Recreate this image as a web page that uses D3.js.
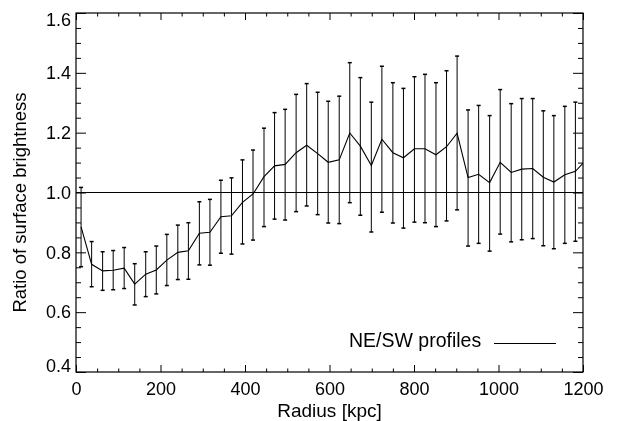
<!DOCTYPE html>
<head>
  <meta charset="utf-8">
  <script src="https://d3js.org/d3.v7.min.js"></script>
  <style>
    body { margin:0;position:fixed;top:0;right:0;bottom:0;left:0;background:#fff; }
    text { font-family: "Liberation Sans", Arial, Helvetica, sans-serif; fill:#000; }
    .axis path { display:none; }
    .axis line { stroke:#000; stroke-width:1; }
  </style>
</head>
<body>

<script>

  // data
  var radius = [12, 37, 63, 88, 114, 139, 165, 190, 215, 241, 266, 292, 317, 343, 368, 394,
                419, 445, 470, 495, 521, 546, 572, 597, 623, 648, 673, 699, 724, 750, 775, 801,
                826, 852, 877, 902, 928, 953, 979, 1004, 1030, 1055, 1081, 1106, 1131, 1157, 1182, 1208];

  var ratio = [0.885, 0.760, 0.738, 0.740, 0.747, 0.694, 0.727, 0.741, 0.774, 0.800, 0.805, 0.864,
               0.867, 0.919, 0.922, 0.967, 0.995, 1.053, 1.089, 1.094, 1.133, 1.158, 1.130, 1.101,
               1.109, 1.199, 1.155, 1.090, 1.178, 1.133, 1.116, 1.146, 1.146, 1.126, 1.153, 1.198,
               1.050, 1.061, 1.033, 1.101, 1.067, 1.078, 1.080, 1.051, 1.035, 1.059, 1.071, 1.110];

  var upper = [1.017, 0.836, 0.802, 0.806, 0.816, 0.762, 0.802, 0.821, 0.860, 0.891, 0.899, 0.969,
               0.977, 1.041, 1.049, 1.109, 1.142, 1.215, 1.267, 1.278, 1.328, 1.364, 1.335, 1.305,
               1.322, 1.434, 1.384, 1.302, 1.422, 1.367, 1.348, 1.387, 1.395, 1.367, 1.407, 1.456,
               1.276, 1.291, 1.257, 1.344, 1.297, 1.314, 1.314, 1.273, 1.257, 1.288, 1.302, 1.330];

  var lower = [0.752, 0.685, 0.673, 0.675, 0.679, 0.624, 0.652, 0.661, 0.689, 0.709, 0.710, 0.758,
               0.757, 0.797, 0.794, 0.828, 0.841, 0.886, 0.911, 0.908, 0.936, 0.955, 0.926, 0.898,
               0.896, 0.966, 0.924, 0.868, 0.934, 0.898, 0.881, 0.901, 0.899, 0.886, 0.905, 0.942,
               0.821, 0.830, 0.804, 0.861, 0.835, 0.842, 0.846, 0.822, 0.812, 0.830, 0.837, 0.880];

  var xTicks = [0, 200, 400, 600, 800, 1000, 1200];
  var yTicks = [0.4, 0.6, 0.8, 1.0, 1.2, 1.4, 1.6];
  var xMinor = d3.range(0, 1201, 50).filter(function(v) { return v % 200 !== 0; });
  var yMinor = [0.45, 0.5, 0.55, 0.65, 0.7, 0.75, 0.85, 0.9, 0.95, 1.05, 1.1, 1.15, 1.25, 1.3, 1.35, 1.45, 1.5, 1.55];

  var data = radius.map(function(r, i) {
    return {r: r, v: ratio[i], hi: upper[i], lo: lower[i]};
  });

  var margin = {top: 13, right: 35, bottom: 49, left: 76},
  width = 618 - margin.left - margin.right,
  height = 421 - margin.top - margin.bottom;

  var svg = d3.select("body").append("svg")
  .attr("width", 618)
  .attr("height", 421)
  .append("g")
  .attr("transform", "translate(" + margin.left + "," + margin.top + ")");

  var x = d3.scaleLinear().domain([0, 1200]).range([0, width]);
  var y = d3.scaleLinear().domain([0.4, 1.6]).range([height, 0]);

  svg.append("clipPath").attr("id", "clip")
    .append("rect").attr("width", width).attr("height", height);

  var plot = svg.append("g").attr("clip-path", "url(#clip)");

  // reference line at 1
  plot.append("line")
    .attr("x1", 0).attr("x2", width)
    .attr("y1", y(1)).attr("y2", y(1))
    .attr("stroke", "#000").attr("stroke-width", 1.2);

  // error bars
  var bars = plot.selectAll(".err").data(data).enter()
    .append("g").attr("class", "err")
    .attr("stroke", "#000").attr("stroke-width", 1);
  bars.append("line")
    .attr("x1", function(d) { return x(d.r); })
    .attr("x2", function(d) { return x(d.r); })
    .attr("y1", function(d) { return y(d.lo); })
    .attr("y2", function(d) { return y(d.hi); });
  bars.append("line")
    .attr("x1", function(d) { return x(d.r) - 2; })
    .attr("x2", function(d) { return x(d.r) + 2; })
    .attr("y1", function(d) { return y(d.hi); })
    .attr("y2", function(d) { return y(d.hi); })
    .attr("stroke-width", 1.5);
  bars.append("line")
    .attr("x1", function(d) { return x(d.r) - 2; })
    .attr("x2", function(d) { return x(d.r) + 2; })
    .attr("y1", function(d) { return y(d.lo); })
    .attr("y2", function(d) { return y(d.lo); })
    .attr("stroke-width", 1.5);

  var line = d3.line()
    .x(function(d) { return x(d.r); })
    .y(function(d) { return y(d.v); });

  plot.append("path").datum(data)
    .attr("d", line)
    .attr("fill", "none")
    .attr("stroke", "#000")
    .attr("stroke-width", 1.1);

  // axes (ticks inward)
  svg.append("g").attr("class", "axis")
    .attr("transform", "translate(0," + height + ")")
    .style("font-size", "18px")
    .call(d3.axisBottom(x).tickValues(xTicks).tickSize(-7).tickSizeOuter(0).tickPadding(10)
      .tickFormat(d3.format("d")));
  svg.append("g").attr("class", "axis")
    .attr("transform", "translate(0," + height + ")")
    .call(d3.axisBottom(x).tickValues(xMinor).tickSize(-3.5).tickSizeOuter(0).tickFormat(""));
  svg.append("g").attr("class", "axis")
    .call(d3.axisTop(x).tickValues(xTicks).tickSize(-7).tickSizeOuter(0).tickFormat(""));
  svg.append("g").attr("class", "axis")
    .call(d3.axisTop(x).tickValues(xMinor).tickSize(-3.5).tickSizeOuter(0).tickFormat(""));

  var yAxis = svg.append("g").attr("class", "axis")
    .style("font-size", "18px")
    .call(d3.axisLeft(y).tickValues(yTicks).tickSize(-10).tickSizeOuter(0).tickPadding(5)
      .tickFormat(d3.format(".1f")));
  // IDL nudges the end labels inside the box
  yAxis.selectAll(".tick text")
    .attr("dy", function(d) { return d === 1.6 ? "0.68em" : (d === 0.4 ? "-0.05em" : "0.32em"); });
  svg.append("g").attr("class", "axis")
    .call(d3.axisLeft(y).tickValues(yMinor).tickSize(-5).tickSizeOuter(0).tickFormat(""));
  svg.append("g").attr("class", "axis")
    .attr("transform", "translate(" + width + ",0)")
    .call(d3.axisRight(y).tickValues(yTicks).tickSize(-10).tickSizeOuter(0).tickFormat(""));
  svg.append("g").attr("class", "axis")
    .attr("transform", "translate(" + width + ",0)")
    .call(d3.axisRight(y).tickValues(yMinor).tickSize(-5).tickSizeOuter(0).tickFormat(""));

  // frame
  svg.append("rect")
    .attr("width", width).attr("height", height)
    .attr("fill", "none").attr("stroke", "#000").attr("stroke-width", 1.2);

  // axis titles
  svg.append("text")
    .attr("x", width / 2)
    .attr("y", height + 45)
    .style("text-anchor", "middle")
    .style("font-size", "19px")
    .text("Radius [kpc]");

  svg.append("text")
    .attr("transform", "rotate(-90)")
    .attr("x", -(height / 2) - 10)
    .attr("y", -margin.left + 26)
    .style("text-anchor", "middle")
    .style("font-size", "18.5px")
    .text("Ratio of surface brightness");

  // legend
  svg.append("text")
    .attr("x", 349 - margin.left)
    .attr("y", 347 - margin.top)
    .style("font-size", "19.5px")
    .text("NE/SW profiles");
  svg.append("line")
    .attr("x1", 494 - margin.left).attr("x2", 556 - margin.left)
    .attr("y1", 343.5 - margin.top).attr("y2", 343.5 - margin.top)
    .attr("stroke", "#000").attr("stroke-width", 1);

</script>

</body>
